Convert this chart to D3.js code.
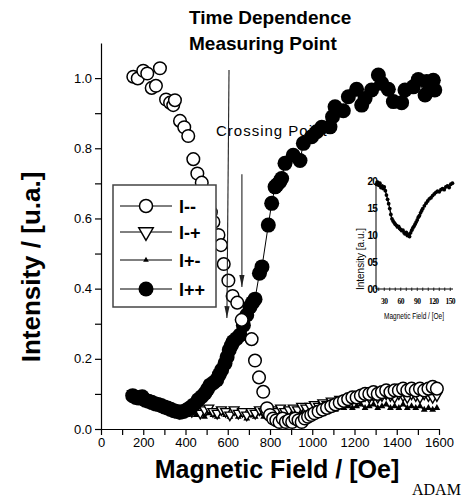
<!DOCTYPE html>
<html><head><meta charset="utf-8">
<script src="https://cdn.jsdelivr.net/npm/d3@7"></script>
<style>body{margin:0;background:#fff}svg{display:block}</style>
</head><body><svg id="c" width="470" height="499"></svg>
<script>
// ---------- DATA ----------
const xTickValues = d3.range(0, 1601, 100);
const xTickLabels = [0, 200, 400, 600, 800, 1000, 1200, 1400, 1600];
const yTickValues = [0, 0.1, 0.2, 0.3, 0.4, 0.5, 0.6, 0.7, 0.8, 0.9, 1.0];
const yTickLabels = ["0.0", "0.2", "0.4", "0.6", "0.8", "1.0"];

const seriesNames = ["I--", "I-+", "I+-", "I++"];

// I-- (open circles)
const iMinusMinus = [
 [153,1.004],[174,0.999],[200,1.021],[219,1.013],[240,0.972],[260,0.978],[279,1.028],[308,0.939],
 [327,0.930],[342,0.923],[350,0.937],[374,0.878],[394,0.860],[413,0.835],[437,0.769],[456,0.728],
 [477,0.702],[492,0.672],[506,0.645],[520,0.618],[532,0.590],[556,0.553],[568,0.524],[581,0.470],
 [603,0.423],[623,0.379],[645,0.360],[666,0.311],[713,0.256],[729,0.195],[748,0.147],[768,0.106],
 [786,0.059],[800,0.040],[815,0.030],[830,0.025],[845,0.020],[860,0.030],[875,0.020],[890,0.025],
 [905,0.020],[920,0.030],[935,0.025],[950,0.020],[965,0.030],[980,0.035],[995,0.040],[1010,0.045],
 [1030,0.050],[1050,0.055],[1070,0.060],[1090,0.065],[1110,0.070],[1130,0.075],[1150,0.080],
 [1170,0.085],[1190,0.090],[1210,0.090],[1230,0.095],[1250,0.100],[1270,0.100],[1290,0.105],
 [1310,0.100],[1330,0.105],[1350,0.110],[1370,0.105],[1390,0.110],[1410,0.110],[1430,0.115],
 [1450,0.110],[1470,0.115],[1490,0.110],[1510,0.115],[1530,0.110],[1550,0.115],[1570,0.120],[1590,0.115]
];

// I-+ (open down triangles)
const iMinusPlus = [
 [150,0.100],[170,0.090],[190,0.085],[210,0.080],[230,0.075],[250,0.070],[270,0.075],[290,0.065],
 [310,0.060],[330,0.055],[350,0.050],[370,0.045],[390,0.050],[410,0.055],[430,0.050],[450,0.060],
 [470,0.045],[490,0.055],[510,0.060],[530,0.050],[550,0.045],[570,0.055],[590,0.050],[610,0.040],
 [630,0.055],[650,0.045],[670,0.050],[690,0.040],[710,0.050],[730,0.045],[750,0.055],[770,0.050],
 [790,0.045],[810,0.055],[830,0.050],[850,0.060],[870,0.050],[890,0.055],[910,0.060],[930,0.055],
 [950,0.065],[970,0.060],[990,0.065],[1010,0.070],[1030,0.065],[1050,0.075],[1070,0.070],[1090,0.080],
 [1110,0.075],[1130,0.085],[1150,0.080],[1170,0.085],[1190,0.090],[1210,0.085],[1230,0.090],[1250,0.095],
 [1270,0.090],[1290,0.095],[1310,0.090],[1330,0.095],[1350,0.100],[1370,0.095],[1390,0.090],[1410,0.100],
 [1430,0.095],[1450,0.090],[1470,0.100],[1490,0.095],[1510,0.090],[1530,0.100],[1550,0.095],[1570,0.090],[1590,0.095]
];

// I+- (small filled triangles)
const iPlusMinus = [
 [150,0.090],[170,0.080],[190,0.085],[210,0.070],[230,0.075],[250,0.065],[270,0.060],[290,0.065],
 [310,0.055],[330,0.050],[350,0.045],[370,0.040],[390,0.045],[410,0.040],[430,0.050],[450,0.040],
 [470,0.045],[490,0.035],[510,0.045],[530,0.040],[550,0.035],[570,0.045],[590,0.040],[610,0.035],
 [630,0.045],[650,0.035],[670,0.040],[690,0.030],[710,0.040],[730,0.035],[750,0.045],[770,0.035],
 [790,0.040],[810,0.045],[830,0.040],[850,0.045],[870,0.040],[890,0.050],[910,0.045],[930,0.050],
 [950,0.045],[970,0.050],[990,0.055],[1010,0.050],[1030,0.055],[1050,0.060],[1070,0.055],[1090,0.060],
 [1110,0.055],[1130,0.065],[1150,0.060],[1170,0.065],[1190,0.060],[1210,0.065],[1230,0.070],[1250,0.060],
 [1270,0.065],[1290,0.070],[1310,0.060],[1330,0.065],[1350,0.070],[1370,0.060],[1390,0.065],[1410,0.060],
 [1430,0.070],[1450,0.060],[1470,0.065],[1490,0.060],[1510,0.065],[1530,0.055],[1550,0.060],[1570,0.055],[1590,0.060]
];

// I++ (filled circles)
const iPlusPlus = [
 [150,0.095],[165,0.090],[180,0.088],[195,0.092],[210,0.082],[225,0.079],[240,0.076],[255,0.072],
 [270,0.070],[285,0.067],[300,0.063],[315,0.060],[330,0.056],[345,0.052],[360,0.050],[375,0.048],
 [390,0.050],[405,0.054],[420,0.060],[437,0.068],[460,0.083],[476,0.092],[492,0.102],[504,0.113],
 [516,0.125],[532,0.132],[548,0.140],[560,0.155],[571,0.168],[587,0.187],[597,0.205],[607,0.225],
 [617,0.238],[626,0.249],[642,0.258],[658,0.268],[674,0.296],[690,0.325],[705,0.348],[717,0.360],
 [729,0.370],[750,0.444],[762,0.462],[792,0.581],[808,0.643],[824,0.690],[832,0.695],[847,0.705],
 [855,0.714],[871,0.757],[910,0.780],[942,0.765],[958,0.814],[997,0.833],[1021,0.847],[1045,0.860],
 [1084,0.861],[1096,0.890],[1108,0.918],[1147,0.907],[1171,0.947],[1210,0.968],[1234,0.923],[1250,0.942],
 [1281,0.966],[1313,1.009],[1329,0.985],[1360,0.968],[1384,0.933],[1423,0.930],[1439,0.966],[1478,0.975],
 [1502,0.996],[1534,0.952],[1542,0.990],[1573,0.994],[1580,0.966]
];

// annotation arrows: [x0, y0, x1, y1] in data units
const arrowTimeDep = [606, 1.023, 596, 0.316];
const arrowCrossing = [667, 0.726, 667, 0.405];

// inset
const insetXTicks = [30, 60, 90, 120, 150];
const insetXMinor = d3.range(20, 151, 10);
const insetYTicks = [0, 5, 10, 15, 20];
const insetYLabels = ["00", "05", "10", "15", "20"];
const insetData = [
 [16,19.4],[18,19.8],[20,19.2],[22,19.6],[24,18.8],[26,19.1],[28,18.6],[30,18.9],[32,18.2],[34,17.4],
 [36,16.6],[38,15.8],[40,14.9],[42,13.8],[44,13.0],[46,12.6],[48,12.3],[50,12.0],[52,11.8],[54,11.5],
 [56,11.6],[58,11.2],[60,11.0],[62,10.8],[64,10.9],[66,10.4],[68,10.2],[70,10.5],[72,9.9],[74,10.1],
 [76,9.7],[78,10.4],[80,10.9],[82,11.3],[84,11.6],[86,12.0],[88,12.4],[90,12.8],[92,13.3],[94,13.6],
 [96,14.1],[98,14.5],[100,14.9],[103,15.4],[106,15.9],[109,16.3],[112,16.7],[115,16.9],[118,17.3],
 [121,17.6],[124,17.9],[127,18.1],[130,18.0],[133,18.4],[136,18.6],[139,18.4],[142,18.9],[145,19.1],
 [148,18.8],[151,19.4],[154,19.6]
];

// ---------- DRAW ----------
const svg = d3.select('#c');
const SANS = '"Liberation Sans", Arial, Helvetica, sans-serif';
const SERIF = '"Liberation Serif", "Times New Roman", serif';
const x = d3.scaleLinear().domain([0, 1600]).range([101, 439]);
const y = d3.scaleLinear().domain([0, 1.1]).range([429, 43]);

// axes
const gx = svg.append('g').attr('transform', 'translate(0,429)')
  .call(d3.axisBottom(x).tickValues(xTickValues).tickSize(6).tickSizeOuter(0).tickPadding(3)
    .tickFormat(d => xTickLabels.includes(d) ? String(d) : ''));
const gy = svg.append('g').attr('transform', 'translate(101,0)')
  .call(d3.axisLeft(y).tickValues(yTickValues).tickSize(6).tickSizeOuter(0).tickPadding(3)
    .tickFormat(d => { const s = d3.format('.1f')(d); return yTickLabels.includes(s) ? s : ''; }));
[gx, gy].forEach(g => {
  g.selectAll('path,line').attr('stroke', '#000').attr('stroke-width', 1.2);
  g.selectAll('text').attr('fill', '#000').style('font-family', SANS).style('font-size', '13px');
});

// "Crossing Point" label (under markers)
svg.append('text').attr('x', 216).attr('y', 136)
  .style('font-family', SANS).style('font-size', '15px').style('letter-spacing', '1px')
  .text('Crossing Point');

const line = d3.line().x(d => x(d[0])).y(d => y(d[1]));
const triUp = d3.symbol().type(d3.symbolTriangle);

// I+-
svg.append('path').datum(iPlusMinus).attr('d', line).attr('fill', 'none').attr('stroke', '#000').attr('stroke-width', 1.3);
svg.append('g').selectAll('path').data(iPlusMinus).join('path')
  .attr('d', triUp.size(20)()).attr('transform', d => `translate(${x(d[0])},${y(d[1])})`).attr('fill', '#000');

// I-+
svg.append('path').datum(iMinusPlus).attr('d', line).attr('fill', 'none').attr('stroke', '#000').attr('stroke-width', 1.1);
svg.append('g').selectAll('path').data(iMinusPlus).join('path')
  .attr('d', d3.symbol().type(d3.symbolTriangle).size(42)())
  .attr('transform', d => `translate(${x(d[0])},${y(d[1])}) rotate(180)`)
  .attr('fill', '#fff').attr('stroke', '#000').attr('stroke-width', 1.4);

// I++
svg.append('path').datum(iPlusPlus).attr('d', line).attr('fill', 'none').attr('stroke', '#000').attr('stroke-width', 1);
svg.append('g').selectAll('circle').data(iPlusPlus).join('circle')
  .attr('cx', d => x(d[0])).attr('cy', d => y(d[1])).attr('r', 7.5).attr('fill', '#000');

// I--
svg.append('g').selectAll('circle').data(iMinusMinus).join('circle')
  .attr('cx', d => x(d[0])).attr('cy', d => y(d[1])).attr('r', 6.3)
  .attr('fill', '#fff').attr('stroke', '#000').attr('stroke-width', 1.5);

// arrows
function arrow(a) {
  const x0 = x(a[0]), y0 = y(a[1]), x1 = x(a[2]), y1 = y(a[3]);
  svg.append('line').attr('x1', x0).attr('y1', y0).attr('x2', x1).attr('y2', y1)
    .attr('stroke', '#222').attr('stroke-width', 1.1);
  const ang = Math.atan2(y1 - y0, x1 - x0), L = 12, W = 2.6;
  const bx = x1 - L * Math.cos(ang), by = y1 - L * Math.sin(ang);
  const px = -Math.sin(ang) * W, py = Math.cos(ang) * W;
  svg.append('path').attr('d', `M${x1},${y1}L${bx + px},${by + py}L${bx - px},${by - py}Z`).attr('fill', '#222');
}
arrow(arrowTimeDep);
arrow(arrowCrossing);

// legend
const lg = svg.append('g');
lg.append('rect').attr('x', 113).attr('y', 185).attr('width', 103).attr('height', 122)
  .attr('fill', '#fff').attr('stroke', '#444').attr('stroke-width', 1.5);
const legY = [206, 232, 260, 289];
seriesNames.forEach((name, i) => {
  const yy = legY[i];
  lg.append('line').attr('x1', 120).attr('x2', 172).attr('y1', yy).attr('y2', yy).attr('stroke', '#000').attr('stroke-width', 1);
  if (i === 0) lg.append('circle').attr('cx', 146).attr('cy', yy).attr('r', 6.5).attr('fill', '#fff').attr('stroke', '#000').attr('stroke-width', 1.5);
  if (i === 1) lg.append('path').attr('d', d3.symbol().type(d3.symbolTriangle).size(90)())
    .attr('transform', `translate(146,${yy}) rotate(180)`).attr('fill', '#fff').attr('stroke', '#000').attr('stroke-width', 1.5);
  if (i === 2) lg.append('path').attr('d', triUp.size(14)()).attr('transform', `translate(146,${yy})`).attr('fill', '#000');
  if (i === 3) lg.append('circle').attr('cx', 146).attr('cy', yy).attr('r', 7.5).attr('fill', '#000');
  lg.append('text').attr('x', 179).attr('y', yy + 6.5).style('font-family', SANS).style('font-weight', 'bold')
    .style('font-size', '18px').text(name);
});

// inset
const xi = d3.scaleLinear().domain([15, 155]).range([376, 453]);
const yi = d3.scaleLinear().domain([0, 20]).range([289, 181]);
const ins = svg.append('g');
ins.append('line').attr('x1', xi(15)).attr('x2', xi(15)).attr('y1', yi(0)).attr('y2', yi(20)).attr('stroke', '#000').attr('stroke-width', 1);
ins.append('line').attr('x1', xi(15)).attr('x2', xi(155)).attr('y1', yi(0)).attr('y2', yi(0)).attr('stroke', '#000').attr('stroke-width', 1);
ins.selectAll('.mt').data(insetXMinor).join('line').attr('class', 'mt')
  .attr('x1', d => xi(d)).attr('x2', d => xi(d)).attr('y1', yi(0) - 1.5).attr('y2', yi(0) + 2)
  .attr('stroke', '#000').attr('stroke-width', 0.8);
ins.selectAll('.xl').data(insetXTicks).join('text').attr('class', 'xl')
  .attr('x', d => xi(d)).attr('y', 304).attr('text-anchor', 'middle')
  .style('font-family', SERIF).style('font-weight', 'bold')
  .style('font-size', '7.5px').style('letter-spacing', '-0.6px').text(d => d);
ins.selectAll('.yl').data(insetYTicks).join('text').attr('class', 'yl')
  .attr('x', 377).attr('y', d => yi(d) + 3.5).attr('text-anchor', 'end')
  .style('font-family', SANS).style('font-weight', 'bold').style('font-size', '10px').style('letter-spacing', '-0.8px')
  .text((d, i) => insetYLabels[i]);
ins.append('path').datum(insetData).attr('d', d3.line().x(d => xi(d[0])).y(d => yi(d[1])))
  .attr('fill', 'none').attr('stroke', '#000').attr('stroke-width', 1.4);
ins.selectAll('.id').data(insetData).join('circle').attr('class', 'id')
  .attr('cx', d => xi(d[0])).attr('cy', d => yi(d[1])).attr('r', 1.9).attr('fill', '#000');
ins.append('text').attr('x', 414).attr('y', 319).attr('text-anchor', 'middle')
  .attr('textLength', 60).attr('lengthAdjust', 'spacingAndGlyphs')
  .style('font-family', SANS).style('font-size', '9px').text('Magnetic Field / [Oe]');
ins.append('text').attr('transform', 'translate(364,259) rotate(-90)').attr('text-anchor', 'middle')
  .attr('textLength', 62).attr('lengthAdjust', 'spacingAndGlyphs')
  .style('font-family', SANS).style('font-size', '10px').text('Intensity [a.u.]');

// titles and axis labels
svg.append('text').attr('x', 189).attr('y', 24).style('font-family', SANS).style('font-weight', 'bold')
  .style('font-size', '19px').text('Time Dependence');
svg.append('text').attr('x', 189).attr('y', 50).style('font-family', SANS).style('font-weight', 'bold')
  .style('font-size', '19px').text('Measuring Point');
svg.append('text').attr('x', 277).attr('y', 478).attr('text-anchor', 'middle')
  .style('font-family', SANS).style('font-weight', 'bold').style('font-size', '25px').text('Magnetic Field / [Oe]');
svg.append('text').attr('transform', 'translate(40,267) rotate(-90)').attr('text-anchor', 'middle')
  .style('font-family', SANS).style('font-weight', 'bold').style('font-size', '26px').text('Intensity / [u.a.]');
svg.append('text').attr('x', 412).attr('y', 495)
  .style('font-family', SERIF).style('font-size', '16px').text('ADAM');
</script>
</body></html>
